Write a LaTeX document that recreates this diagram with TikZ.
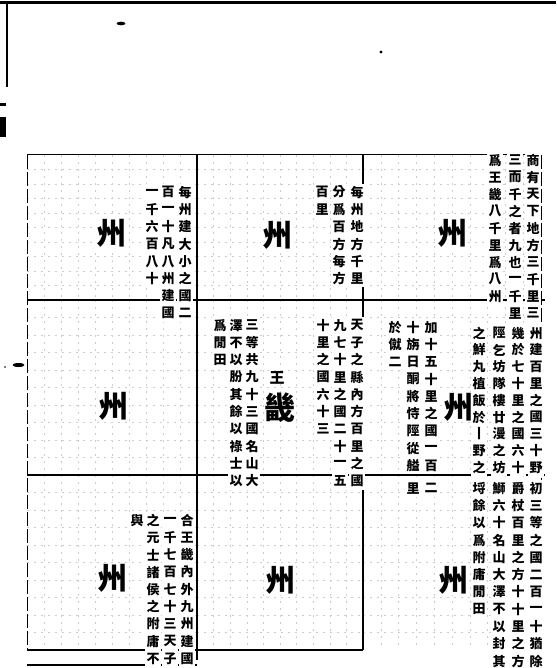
\documentclass[tikz,border=0pt]{standalone}
\usepackage{fontspec}
\newfontfamily\cjk{Noto Sans CJK TC}
\makeatletter
\newcommand\vcol[2][17.3]{\vbox{\offinterlineskip\@tfor\vc@c:=#2\do{\hbox to 16pt{\hss\vbox to #1pt{\vss\hbox{\vc@c}\vss}\hss}}}}
\makeatother
\tikzset{
  vtxt/.style={anchor=north, inner sep=0pt, fill=white, font=\cjk\bfseries\fontsize{13}{13}\selectfont},
  bigz/.style={inner sep=1pt, fill=white, font=\cjk\bfseries\fontsize{30}{30}\selectfont},
  thick rule/.style={line width=2.6pt, black},
  thin rule/.style={line width=1pt, black},
  border rule/.style={line width=0.9pt, black, dash pattern=on 14pt off 3pt},
  sub/.style={line width=0.5pt, gray!40, dash pattern=on 2pt off 5pt},
}
\newcommand\vc[5][17.3]{\node[vtxt] (#2) at (#3,{#4-#1/2}) {\vcol[#1]{#5}};}
\begin{document}
\begin{tikzpicture}[x=1pt,y=-1pt]
\fill[white] (0,0) rectangle (556,668);
\useasboundingbox (0,0) rectangle (556,668);
% page edge marks
\draw[line width=3pt] (0,3) -- (556,3);
\draw[line width=1.5pt] (7,3) -- (7,87);
\fill (0,117) rectangle (6,137);
\fill (0,103) rectangle (6,106);
\fill (121,23.5) ellipse (4.5pt and 1.8pt);
\fill (381,52) circle (1.6pt);
\fill (18.5,365) ellipse (6pt and 2pt);
\fill (5,367) circle (0.8pt);
% sub grid
\foreach \xa/\xb in {27/197,197/363,363/541}{
  \foreach \ya/\yb in {155/300,300/475,475/650}{
    \foreach \i in {1,...,9}{
      \draw[sub] ({\xa+\i*(\xb-\xa)/10},\ya) -- ({\xa+\i*(\xb-\xa)/10},\yb);
      \draw[sub] (\xa,{\ya+\i*(\yb-\ya)/10}) -- (\xb,{\ya+\i*(\yb-\ya)/10});
    }
  }
}
% main grid
\draw[thin rule] (27,155) -- (541,155);
\draw[border rule] (27,155) -- (27,650);
\draw[border rule] (541,155) -- (541,668);
\draw[thick rule] (197,155) -- (197,660);
\draw[thick rule] (363,155) -- (363,650);
\draw[thick rule] (27,300) -- (545,300);
\draw[thick rule] (27,475) -- (545,475);
\draw[line width=1.4pt] (27,650) -- (363,650);
\draw[line width=1.4pt] (27,665) -- (197,665);
% top-left
\node[bigz] (z1) at (111,233) {州};
\vc{tla}{185}{192}{每州建大小之國二}
\vc{tlb}{168}{192}{百一十凡八州建國}
\vc{tlc}{152}{192}{一千六百八十}
% top-middle
\node[bigz] (z2) at (277,235) {州};
\vc{tma}{357}{192}{每州地方千里}
\vc{tmb}{339}{192}{分爲百方每方}
\vc{tmc}{322}{192}{百里}
% top-right
\node[bigz] (z3) at (452,233) {州};
\vc[17]{tra}{533}{160}{商有天下地方三千里三}
\vc[17]{trb}{515}{160}{三而千之者九也一千里}
\vc[17]{trc}{495}{160}{爲王畿八千里爲八州}
% middle-left
\node[bigz] (z4) at (113,406) {州};
% centre
\node[inner sep=0pt, fill=white, font=\cjk\bfseries\fontsize{15}{15}\selectfont] (wang) at (277,378) {王};
\node[inner sep=0pt, fill=white, font=\cjk\bfseries\fontsize{31}{31}\selectfont] (ji) at (280,408) {畿};
\vc{ca}{357}{325}{天子之縣內方百里之國}
\vc{cb}{340}{325}{九七十里之國二十一五}
\vc{cc}{323}{325}{十里之國六十三}
\vc{cd}{252}{325}{三等共九十三國名山大}
\vc{ce}{236}{325}{澤不以朌其餘以祿士以}
\vc{cf}{220}{325}{爲閒田}
% middle-right
\node[bigz] (z5) at (458,407) {州};
\vc[16.8]{mra}{536}{333}{州建百里之國三十野}
\vc[16.8]{mrb}{518}{333}{幾於七十里之國六十}
\vc[16.8]{mrc}{499}{333}{陘乞坊隊樓廿漫之坊}
\vc[16.8]{mrd}{479}{333}{之鮮丸植飯於丨野之}
\vc{mre}{431}{327}{加十五十里之國一百}
\vc{mrf}{413}{327}{十旃日酮將恃陘從艗}
\vc{mrg}{395}{327}{於僦二}
\vc{mre2}{431}{488}{二}
\vc{mrf2}{413}{488}{里}
% bottom-left
\node[bigz] (z6) at (112,578) {州};
\vc{bla}{187}{520}{合王畿內外九州建國}
\vc{blb}{170}{520}{一千七百七十三天子}
\vc{blc}{153}{520}{之元士諸侯之附庸不}
\vc{bld}{137}{520}{與}
% bottom-middle
\node[bigz] (z7) at (280,580) {州};
% bottom-right
\node[bigz] (z8) at (453,580) {州};
\vc{bra}{536}{488}{初三等之國二百一十猶除}
\vc{brb}{518}{488}{爵杖百里之方十十里之方}
\vc{brc}{499}{488}{鰤六十名山大澤不以封其}
\vc{brd}{479}{488}{埒餘以爲附庸閒田}
\end{tikzpicture}
\end{document}
